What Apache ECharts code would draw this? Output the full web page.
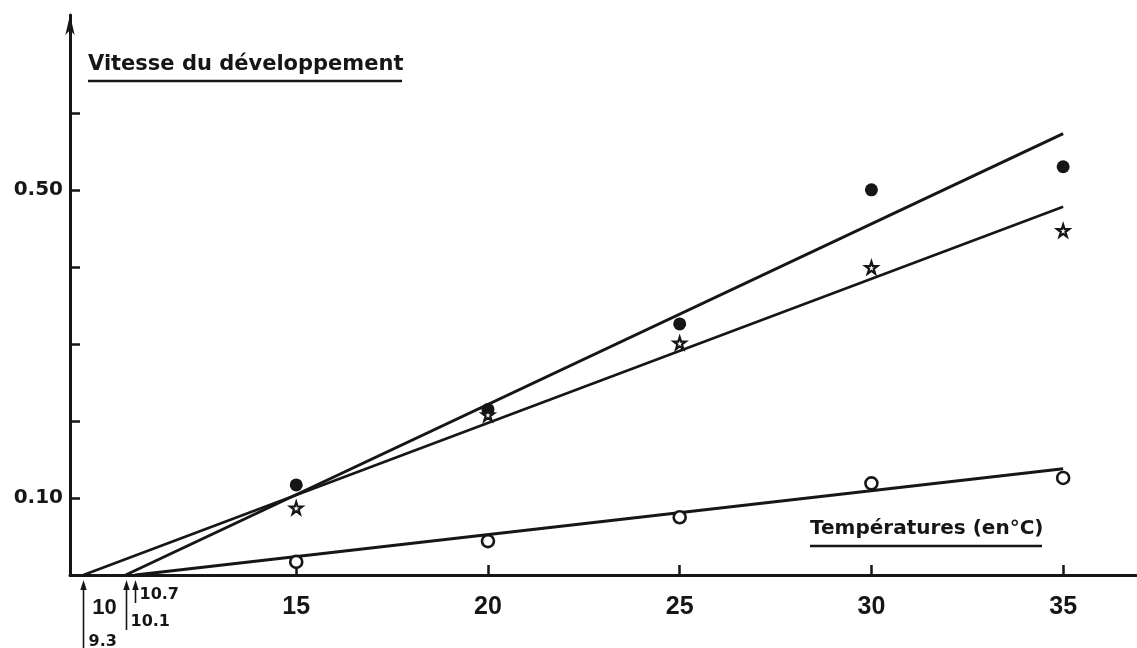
<!DOCTYPE html>
<html>
<head>
<meta charset="utf-8">
<script src="https://cdn.jsdelivr.net/npm/echarts@6/dist/echarts.min.js"></script>
<style>
html,body{margin:0;padding:0;background:#fff;}
#chart{width:1137px;height:648px;}
</style>
</head>
<body>
<div id="chart"></div>
<script>
// ---- data ----
const temperatures = [15, 20, 25, 30, 35];
const filledCircles = [0.117, 0.215, 0.326, 0.500, 0.530];
const stars = [0.087, 0.208, 0.301, 0.399, 0.447];
const openCircles = [0.017, 0.044, 0.075, 0.119, 0.126];
// regression lines: [start temperature on axis, end temperature], [0, end value]
const filledLineX = [10.55, 35];
const filledLineY = [0, 0.573];
const starLineX = [9.45, 35];
const starLineY = [0, 0.478];
const openLineX = [10.8, 35];
const openLineY = [0, 0.138];
// threshold arrows (position, printed label)
const thresholdPos = [9.45, 10.55, 10.8];
const thresholdLabels = ['9.3', '10.1', '10.7'];
// axis ticks / labels
const xTickValues = [15, 20, 25, 30, 35];
const xLabelValues = [10, 15, 20, 25, 30, 35];
const yTickValues = [0.1, 0.2, 0.3, 0.4, 0.5, 0.6];
const yLabelValues = [0.1, 0.5];

const ink = '#161616';
const FONT = '"DejaVu Sans", sans-serif';
const FONT2 = '"Liberation Sans", Arial, sans-serif';
const arrowStyle = [
  {len: 80, dx: 5, dy: 67},
  {len: 55, dx: 4, dy: 47},
  {len: 28, dx: 4, dy: 20}
];

function pairs(xs, ys) { return xs.map((x, i) => [x, ys[i]]); }

const starPath = 'path://M50,2 L61,36 L97,36 L68,57 L79,92 L50,71 L21,92 L32,57 L3,36 L39,36 Z';

const chart = echarts.init(document.getElementById('chart'), null, {renderer: 'canvas'});
chart.setOption({
  backgroundColor: '#fff',
  animation: false,
  title: [
    {text: 'Vitesse du développement', left: 88, top: 54, padding: 0,
     textStyle: {fontFamily: FONT, fontSize: 21, fontWeight: 'bold', color: ink}},
    {text: 'Températures (en°C)', left: 810, top: 519, padding: 0,
     textStyle: {fontFamily: FONT, fontSize: 20, fontWeight: 'bold', color: ink}}
  ],
  graphic: [
    {type: 'line', shape: {x1: 88, y1: 81, x2: 402, y2: 81}, style: {stroke: ink, lineWidth: 2.5}},
    {type: 'line', shape: {x1: 810, y1: 546, x2: 1042, y2: 546}, style: {stroke: ink, lineWidth: 2.5}}
  ],
  grid: {left: 70, right: 1, top: 15, bottom: 73, containLabel: false, outerBoundsMode: 'none'},
  xAxis: {
    type: 'value', min: 9.1, max: 36.9,
    splitLine: {show: false},
    axisLine: {show: true, onZero: false, lineStyle: {color: ink, width: 3}},
    axisTick: {show: true, inside: true, length: 10, customValues: xTickValues, lineStyle: {color: ink, width: 2.5}},
    axisLabel: {show: true, customValues: xLabelValues, margin: 20, color: ink,
      fontFamily: FONT2, fontSize: 25, fontWeight: 'bold',
      formatter: v => v === 10 ? '{s|10}' : String(v),
      rich: {s: {fontFamily: FONT2, fontSize: 22, fontWeight: 'bold', color: ink, lineHeight: 26}}}
  },
  yAxis: {
    type: 'value', min: 0, max: 0.727,
    splitLine: {show: false},
    axisLine: {show: true, onZero: false, symbol: ['none', 'arrow'], symbolSize: [7, 20], lineStyle: {color: ink, width: 3}},
    axisTick: {show: true, inside: true, length: 10, customValues: yTickValues, lineStyle: {color: ink, width: 2.5}},
    axisLabel: {show: true, customValues: yLabelValues, margin: 7, color: ink,
      fontFamily: FONT, fontSize: 20, fontWeight: 'bold',
      formatter: v => v.toFixed(2)}
  },
  series: [
    {type: 'line', data: pairs(filledLineX, filledLineY), symbol: 'none', lineStyle: {color: ink, width: 3}, z: 2},
    {type: 'line', data: pairs(starLineX, starLineY), symbol: 'none', lineStyle: {color: ink, width: 2.6}, z: 2},
    {type: 'line', data: pairs(openLineX, openLineY), symbol: 'none', lineStyle: {color: ink, width: 3}, z: 2},
    {type: 'scatter', data: pairs(temperatures, filledCircles), symbol: 'circle', symbolSize: 13,
     itemStyle: {color: ink, opacity: 1}, z: 4},
    {type: 'scatter', data: pairs(temperatures, stars), symbol: starPath, symbolSize: 12,
     itemStyle: {color: '#fff', borderColor: ink, borderWidth: 2.2, opacity: 1}, z: 5},
    {type: 'scatter', data: pairs(temperatures, openCircles), symbol: 'circle', symbolSize: 12,
     itemStyle: {color: '#fff', borderColor: ink, borderWidth: 2.6, opacity: 1}, z: 5},
    {type: 'custom', clip: false, z: 6,
     data: thresholdPos.map(v => [v, 0]),
     renderItem: function (params, api) {
       const p = api.coord([api.value(0), 0]);
       const x = Math.round(p[0]) + 0.5, y0 = p[1];
       const s = arrowStyle[params.dataIndex];
       return {type: 'group', children: [
         {type: 'line', shape: {x1: x, y1: y0 + 10, x2: x, y2: y0 + s.len}, style: {stroke: ink, lineWidth: 1.6}},
         {type: 'polygon', shape: {points: [[x, y0 + 5], [x - 3.2, y0 + 15], [x + 3.2, y0 + 15]]}, style: {fill: ink}},
         {type: 'text', style: {text: thresholdLabels[params.dataIndex], x: x + s.dx, y: y0 + s.dy,
           font: 'bold 16px ' + FONT, fill: ink, align: 'left', verticalAlign: 'middle'}}
       ]};
     }
    }
  ]
});
</script>
</body>
</html>
